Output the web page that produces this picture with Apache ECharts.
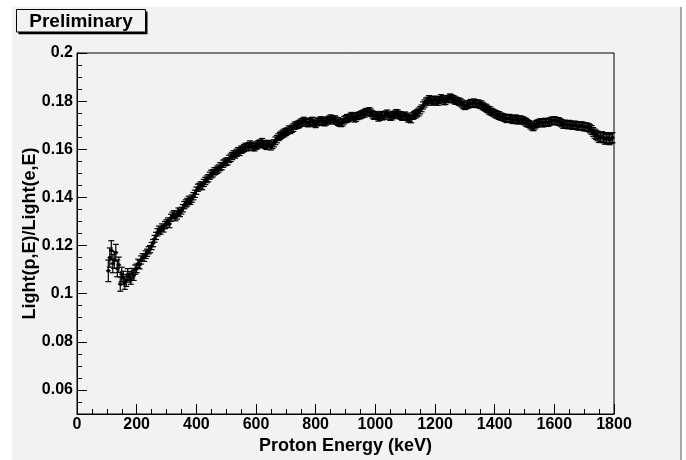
<!DOCTYPE html>
<html><head><meta charset="utf-8">
<script src="https://cdn.jsdelivr.net/npm/echarts@6/dist/echarts.min.js"></script>
<style>html,body{margin:0;padding:0;background:#fff}#c{width:686px;height:460px}</style>
</head><body><div id="c"></div>
<script>
const energy = [
 105,110,115,120,125,130,135,140,145,150,155,160,165,170,175,180,185,190,195,200,
 205,210,215,220,225,230,235,240,245,250,255,260,265,270,275,280,285,290,295,300,
 305,310,315,320,325,330,335,340,345,350,355,360,365,370,375,380,385,390,395,400,
 405,410,415,420,425,430,435,440,445,450,455,460,465,470,475,480,485,490,495,500,
 505,510,515,520,525,530,535,540,545,550,555,560,565,570,575,580,585,590,595,600,
 605,610,615,620,625,630,635,640,645,650,655,660,665,670,675,680,685,690,695,700,
 705,710,715,720,725,730,735,740,745,750,755,760,765,770,775,780,785,790,795,800,
 805,810,815,820,825,830,835,840,845,850,855,860,865,870,875,880,885,890,895,900,
 905,910,915,920,925,930,935,940,945,950,955,960,965,970,975,980,985,990,995,1000,
 1005,1010,1015,1020,1025,1030,1035,1040,1045,1050,1055,1060,1065,1070,1075,1080,1085,1090,1095,1100,
 1105,1110,1115,1120,1125,1130,1135,1140,1145,1150,1155,1160,1165,1170,1175,1180,1185,1190,1195,1200,
 1205,1210,1215,1220,1225,1230,1235,1240,1245,1250,1255,1260,1265,1270,1275,1280,1285,1290,1295,1300,
 1305,1310,1315,1320,1325,1330,1335,1340,1345,1350,1355,1360,1365,1370,1375,1380,1385,1390,1395,1400,
 1405,1410,1415,1420,1425,1430,1435,1440,1445,1450,1455,1460,1465,1470,1475,1480,1485,1490,1495,1500,
 1505,1510,1515,1520,1525,1530,1535,1540,1545,1550,1555,1560,1565,1570,1575,1580,1585,1590,1595,1600,
 1605,1610,1615,1620,1625,1630,1635,1640,1645,1650,1655,1660,1665,1670,1675,1680,1685,1690,1695,1700,
 1705,1710,1715,1720,1725,1730,1735,1740,1745,1750,1755,1760,1765,1770,1775,1780,1785,1790,1795
];
const ratio = [
 0.1095,0.1150,0.1180,0.1125,0.1140,0.1170,0.1105,0.1120,0.1040,0.1080,0.1065,0.1045,0.1055,0.1080,0.1070,0.1060,0.1085,0.1075,0.1100,0.1105,
 0.1125,0.1120,0.1140,0.1150,0.1150,0.1162,0.1170,0.1180,0.1185,0.1198,0.1210,0.1228,0.1240,0.1255,0.1265,0.1262,0.1275,0.1270,0.1285,0.1292,
 0.1300,0.1290,0.1315,0.1325,0.1330,0.1318,0.1325,0.1340,0.1335,0.1345,0.1355,0.1368,0.1375,0.1380,0.1390,0.1385,0.1395,0.1405,0.1415,0.1428,
 0.1440,0.1445,0.1450,0.1448,0.1460,0.1468,0.1475,0.1480,0.1490,0.1497,0.1500,0.1508,0.1510,0.1515,0.1520,0.1528,0.1530,0.1540,0.1545,0.1548,
 0.1550,0.1560,0.1565,0.1572,0.1580,0.1578,0.1585,0.1592,0.1590,0.1598,0.1600,0.1605,0.1610,0.1608,0.1612,0.1620,0.1615,0.1610,0.1608,0.1615,
 0.1618,0.1622,0.1625,0.1630,0.1622,0.1618,0.1615,0.1622,0.1620,0.1612,0.1618,0.1625,0.1635,0.1642,0.1650,0.1655,0.1660,0.1665,0.1668,0.1672,
 0.1675,0.1682,0.1680,0.1685,0.1690,0.1698,0.1700,0.1702,0.1705,0.1710,0.1712,0.1718,0.1715,0.1710,0.1708,0.1712,0.1715,0.1718,0.1708,0.1705,
 0.1712,0.1715,0.1718,0.1720,0.1714,0.1712,0.1716,0.1720,0.1722,0.1728,0.1725,0.1720,0.1724,0.1718,0.1715,0.1710,0.1708,0.1712,0.1720,0.1725,
 0.1728,0.1730,0.1733,0.1738,0.1735,0.1728,0.1732,0.1738,0.1740,0.1742,0.1745,0.1748,0.1750,0.1755,0.1755,0.1758,0.1752,0.1745,0.1740,0.1742,
 0.1738,0.1732,0.1735,0.1742,0.1738,0.1740,0.1745,0.1748,0.1740,0.1735,0.1738,0.1742,0.1745,0.1750,0.1748,0.1742,0.1740,0.1735,0.1738,0.1740,
 0.1735,0.1728,0.1730,0.1725,0.1738,0.1742,0.1745,0.1750,0.1755,0.1762,0.1770,0.1782,0.1790,0.1798,0.1800,0.1808,0.1805,0.1798,0.1802,0.1806,
 0.1800,0.1798,0.1805,0.1812,0.1808,0.1800,0.1802,0.1808,0.1810,0.1815,0.1812,0.1808,0.1805,0.1802,0.1800,0.1798,0.1795,0.1790,0.1785,0.1780,
 0.1782,0.1786,0.1788,0.1792,0.1790,0.1794,0.1792,0.1788,0.1790,0.1786,0.1785,0.1780,0.1775,0.1772,0.1768,0.1762,0.1760,0.1755,0.1752,0.1748,
 0.1745,0.1742,0.1740,0.1736,0.1735,0.1732,0.1730,0.1726,0.1728,0.1730,0.1726,0.1722,0.1725,0.1728,0.1722,0.1720,0.1725,0.1722,0.1720,0.1716,
 0.1712,0.1708,0.1705,0.1700,0.1695,0.1692,0.1700,0.1705,0.1708,0.1710,0.1712,0.1708,0.1710,0.1714,0.1712,0.1710,0.1715,0.1718,0.1718,0.1720,
 0.1718,0.1716,0.1715,0.1712,0.1708,0.1702,0.1705,0.1702,0.1700,0.1704,0.1702,0.1698,0.1700,0.1702,0.1698,0.1696,0.1695,0.1698,0.1697,0.1692,
 0.1694,0.1692,0.1690,0.1685,0.1680,0.1672,0.1665,0.1660,0.1655,0.1648,0.1650,0.1652,0.1648,0.1642,0.1645,0.1648,0.1640,0.1645,0.1648
];
const ratioErr = [
 0.0045,0.0040,0.0040,0.0038,0.0035,0.0035,0.0035,0.0032,0.0030,0.0030,0.0028,0.0027,0.0025,0.0024,0.0022,0.0021,0.0020,0.0020,0.0019,0.0018,
 0.0018,0.0017,0.0017,0.0016,0.0016,0.0016,0.0015,0.0015,0.0015,0.0015,0.0015,0.0014,0.0015,0.0015,0.0016,0.0015,0.0015,0.0014,0.0015,0.0015,
 0.0015,0.0016,0.0015,0.0014,0.0015,0.0015,0.0015,0.0016,0.0015,0.0014,0.0015,0.0015,0.0015,0.0016,0.0015,0.0014,0.0015,0.0015,0.0015,0.0015,
 0.0015,0.0014,0.0015,0.0016,0.0015,0.0015,0.0014,0.0015,0.0015,0.0016,0.0015,0.0015,0.0014,0.0015,0.0015,0.0016,0.0015,0.0015,0.0014,0.0015,
 0.0015,0.0015,0.0016,0.0015,0.0014,0.0015,0.0015,0.0015,0.0016,0.0015,0.0014,0.0015,0.0015,0.0015,0.0016,0.0015,0.0014,0.0015,0.0015,0.0015,
 0.0016,0.0015,0.0014,0.0015,0.0015,0.0015,0.0016,0.0015,0.0014,0.0015,0.0015,0.0015,0.0016,0.0015,0.0014,0.0015,0.0015,0.0015,0.0016,0.0015,
 0.0014,0.0015,0.0015,0.0015,0.0016,0.0015,0.0014,0.0015,0.0015,0.0015,0.0016,0.0015,0.0014,0.0015,0.0015,0.0015,0.0016,0.0015,0.0014,0.0015,
 0.0015,0.0015,0.0016,0.0015,0.0014,0.0015,0.0015,0.0015,0.0016,0.0015,0.0014,0.0015,0.0015,0.0015,0.0016,0.0015,0.0014,0.0015,0.0015,0.0015,
 0.0016,0.0015,0.0014,0.0015,0.0015,0.0015,0.0016,0.0015,0.0014,0.0015,0.0015,0.0015,0.0016,0.0015,0.0014,0.0015,0.0015,0.0015,0.0016,0.0015,
 0.0014,0.0015,0.0015,0.0015,0.0016,0.0015,0.0014,0.0015,0.0015,0.0015,0.0016,0.0015,0.0014,0.0015,0.0015,0.0015,0.0016,0.0015,0.0014,0.0015,
 0.0015,0.0015,0.0016,0.0015,0.0014,0.0015,0.0015,0.0015,0.0016,0.0015,0.0014,0.0015,0.0015,0.0015,0.0016,0.0015,0.0014,0.0015,0.0015,0.0015,
 0.0016,0.0015,0.0014,0.0015,0.0015,0.0015,0.0016,0.0015,0.0014,0.0015,0.0015,0.0015,0.0016,0.0015,0.0014,0.0015,0.0015,0.0015,0.0016,0.0015,
 0.0014,0.0015,0.0015,0.0015,0.0016,0.0015,0.0014,0.0015,0.0015,0.0015,0.0016,0.0015,0.0014,0.0015,0.0015,0.0015,0.0016,0.0015,0.0014,0.0015,
 0.0015,0.0015,0.0016,0.0015,0.0014,0.0015,0.0015,0.0015,0.0016,0.0015,0.0014,0.0015,0.0015,0.0015,0.0016,0.0015,0.0014,0.0015,0.0015,0.0015,
 0.0016,0.0015,0.0014,0.0015,0.0015,0.0015,0.0016,0.0015,0.0014,0.0015,0.0015,0.0015,0.0016,0.0015,0.0014,0.0015,0.0015,0.0015,0.0016,0.0015,
 0.0015,0.0015,0.0016,0.0015,0.0015,0.0015,0.0016,0.0015,0.0015,0.0016,0.0015,0.0015,0.0016,0.0015,0.0016,0.0016,0.0015,0.0016,0.0016,0.0016,
 0.0016,0.0016,0.0017,0.0017,0.0018,0.0018,0.0019,0.0019,0.0020,0.0020,0.0020,0.0021,0.0021,0.0021,0.0021,0.0021,0.0021,0.0021,0.0021
];
const energyErr = 8;
const yMajorTicks = [0.06,0.08,0.1,0.12,0.14,0.16,0.18,0.2];
const titleText = 'Preliminary';
const xTitle = 'Proton Energy (keV)';
const yTitle = 'Light(p,E)/Light(e,E)';

const FONT = '"Liberation Sans", Arial, Helvetica, sans-serif';
const chart = echarts.init(document.getElementById('c'), null, {renderer:'canvas'});

function renderItem(params, api){
  const x = api.value(0), y = api.value(1), ey = api.value(2), ex = api.value(3);
  const c = api.coord([x, y]);
  const t = api.coord([x, y + ey]);
  const b = api.coord([x, y - ey]);
  const l = api.coord([x - ex, y]);
  const r = api.coord([x + ex, y]);
  const cap = 3;
  const style = {stroke:'#000', lineWidth:1.2};
  return {type:'group', children:[
    {type:'line', shape:{x1:c[0], y1:t[1], x2:c[0], y2:b[1]}, style},
    {type:'line', shape:{x1:l[0], y1:c[1], x2:r[0], y2:c[1]}, style},
    {type:'line', shape:{x1:c[0]-cap, y1:t[1], x2:c[0]+cap, y2:t[1]}, style},
    {type:'line', shape:{x1:c[0]-cap, y1:b[1], x2:c[0]+cap, y2:b[1]}, style},
    {type:'rect', shape:{x:c[0]-1.5, y:c[1]-1.5, width:3, height:3}, style:{fill:'#000'}}
  ]};
}

const labelStyle = {color:'#000', fontFamily:FONT, fontWeight:'bold', fontSize:16};
const nameStyle = {color:'#000', fontFamily:FONT, fontWeight:'bold', fontSize:18};

chart.setOption({
  backgroundColor:'transparent',
  animation:false,
  graphic:[
    {type:'rect', z:-10, silent:true, shape:{x:12, y:7, width:668, height:453}, style:{fill:'#f2f2f2'}},
    {type:'rect', z:-9, silent:true, shape:{x:680, y:7, width:2, height:453}, style:{fill:'#a8a8a8'}},
    {type:'rect', z:10, silent:true, shape:{x:18.5, y:11.5, width:129, height:22.8}, style:{fill:'#000'}},
    {type:'rect', z:11, silent:true, shape:{x:16.5, y:9.5, width:129, height:22.5}, style:{fill:'#f2f2f2', stroke:'#000', lineWidth:1}},
    {type:'text', z:12, silent:true, x:81, y:21.5, style:{text:titleText, fill:'#000', font:'bold 19px '+FONT, textAlign:'center', textVerticalAlign:'middle'}}
  ],
  grid:{left:77, top:53, width:537, height:364, show:true, borderColor:'#000', borderWidth:1, backgroundColor:'transparent', containLabel:false},
  xAxis:{
    type:'value', min:0, max:1800, interval:200,
    name:xTitle, nameLocation:'middle', nameGap:23, nameMoveOverlap:false,
    nameTextStyle:nameStyle,
    axisLine:{show:true, lineStyle:{color:'#000', width:1}},
    axisTick:{show:true, inside:true, length:10, lineStyle:{color:'#000', width:1}},
    minorTick:{show:true, splitNumber:4, length:5, lineStyle:{color:'#000', width:1}},
    axisLabel:Object.assign({margin:3, formatter:v => String(v)}, labelStyle),
    splitLine:{show:false}, minorSplitLine:{show:false}
  },
  yAxis:[
    {
      type:'value', min:0.05, max:0.2, interval:0.005, position:'left',
      axisLine:{show:true, lineStyle:{color:'#000', width:1}},
      axisTick:{show:true, inside:true, length:5, lineStyle:{color:'#000', width:1}},
      axisLabel:{show:false}, splitLine:{show:false}
    },
    {
      type:'value', min:0.05, max:0.2, position:'left',
      name:yTitle, nameLocation:'middle', nameGap:38, nameRotate:90, nameMoveOverlap:false,
      nameTextStyle:nameStyle,
      axisLine:{show:true, lineStyle:{color:'#000', width:1}},
      axisTick:{show:true, inside:true, length:10, customValues:yMajorTicks, lineStyle:{color:'#000', width:1}},
      axisLabel:Object.assign({margin:4, customValues:yMajorTicks, formatter:v => String(parseFloat(Number(v).toFixed(3)))}, labelStyle),
      splitLine:{show:false}
    }
  ],
  series:[{
    type:'custom', renderItem, clip:false, yAxisIndex:0,
    encode:{x:0, y:1},
    data: energy.map((e,i) => [e, ratio[i], ratioErr[i], energyErr])
  }]
});
</script>
</body></html>
